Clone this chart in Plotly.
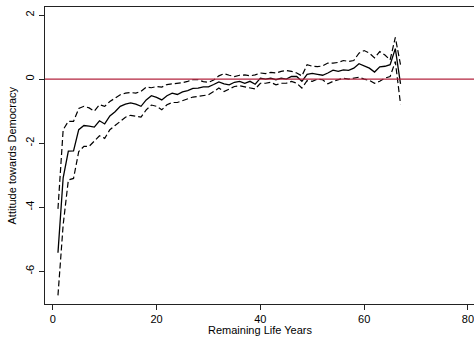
import plotly.graph_objects as go

years = list(range(1, 68))

mean_att = [-5.42, -3.08, -2.25, -2.24, -1.58, -1.45, -1.47, -1.50, -1.30, -1.40,
            -1.15, -1.02, -0.85, -0.78, -0.74, -0.78, -0.85, -0.65, -0.52, -0.57,
            -0.65, -0.52, -0.44, -0.48, -0.40, -0.36, -0.29, -0.28, -0.24, -0.24,
            -0.17, -0.09, -0.15, -0.18, -0.10, -0.07, -0.13, -0.07, -0.16, 0.03,
            0.00, 0.03, -0.02, 0.03, 0.00, 0.08, 0.08, -0.07, 0.15, 0.18,
            0.15, 0.12, 0.19, 0.28, 0.24, 0.29, 0.27, 0.34, 0.48, 0.42,
            0.34, 0.22, 0.38, 0.40, 0.45, 0.95, -0.15]

upper_ci = [-4.05, -1.58, -1.32, -1.32, -0.92, -0.85, -0.90, -1.00, -0.80, -0.85,
            -0.70, -0.60, -0.49, -0.44, -0.42, -0.44, -0.38, -0.25, -0.27, -0.23,
            -0.25, -0.17, -0.15, -0.15, -0.11, -0.07, -0.02, -0.02, -0.08, -0.10,
            -0.03, 0.10, 0.17, 0.12, 0.08, 0.12, 0.13, 0.10, 0.13, 0.19,
            0.17, 0.21, 0.19, 0.24, 0.27, 0.24, 0.19, 0.10, 0.45, 0.40,
            0.39, 0.41, 0.50, 0.50, 0.52, 0.58, 0.55, 0.58, 0.81, 0.89,
            0.81, 0.66, 0.86, 0.75, 0.60, 1.30, 0.45]

lower_ci = [-6.75, -4.55, -3.15, -3.10, -2.26, -2.10, -2.10, -1.95, -1.77, -1.85,
            -1.58, -1.45, -1.32, -1.19, -1.13, -1.15, -1.19, -0.96, -0.81, -0.85,
            -0.96, -0.80, -0.73, -0.73, -0.67, -0.63, -0.56, -0.54, -0.52, -0.49,
            -0.39, -0.28, -0.39, -0.31, -0.23, -0.21, -0.25, -0.28, -0.31, -0.13,
            -0.13, -0.10, -0.18, -0.13, -0.13, -0.07, -0.13, -0.28, -0.05, -0.07,
            0.00, -0.02, -0.15, -0.07, -0.02, 0.03, 0.00, 0.03, 0.06, 0.00,
            -0.04, -0.13, -0.07, 0.03, 0.08, 0.55, -0.78]

x_ticks = [0, 20, 40, 60, 80]
y_ticks = [2, 0, -2, -4, -6]
y_tick_labels = ["2", "0", "-2", "-4", "-6"]

fig = go.Figure()
fig.add_trace(go.Scatter(x=years, y=upper_ci, mode="lines",
                         line=dict(color="black", width=1.2, dash="6px,3px"),
                         showlegend=False, hoverinfo="skip"))
fig.add_trace(go.Scatter(x=years, y=lower_ci, mode="lines",
                         line=dict(color="black", width=1.2, dash="6px,3px"),
                         showlegend=False, hoverinfo="skip"))
fig.add_trace(go.Scatter(x=years, y=mean_att, mode="lines",
                         line=dict(color="black", width=1.3),
                         showlegend=False, hoverinfo="skip"))

fig.add_hline(y=0, line=dict(color="#b3243f", width=1.3))

font_family = "Liberation Sans, Arial, sans-serif"

fig.add_annotation(text="Remaining Life Years", xref="paper", yref="paper",
                   x=0.5, y=-0.087, xanchor="center", yanchor="middle",
                   showarrow=False, font=dict(size=11))
fig.add_annotation(text="Attitude towards Democracy", xref="paper", yref="paper",
                   x=-0.077, y=0.5, xanchor="center", yanchor="middle",
                   textangle=-90, showarrow=False, font=dict(size=11))

fig.update_layout(
    width=474, height=344,
    margin=dict(l=45, r=0, t=7, b=40, autoexpand=False),
    paper_bgcolor="white", plot_bgcolor="white",
    font=dict(family=font_family, size=11, color="black"),
    hovermode=False,
    xaxis=dict(
        range=[-1.5, 81.16], automargin=False,
        tickvals=x_ticks, ticktext=[str(v) for v in x_ticks],
        ticklabeloverflow="allow",
        ticks="outside", ticklen=5, tickcolor="#222", tickwidth=1,
        showline=True, linecolor="#222", linewidth=1.2, mirror=True,
        showgrid=False, zeroline=False, showspikes=False,
        tickfont=dict(size=11),
    ),
    yaxis=dict(
        range=[-7.02, 2.25], automargin=False,
        tickvals=y_ticks, ticktext=y_tick_labels, tickangle=-90,
        ticklabeloverflow="allow",
        ticks="outside", ticklen=5, tickcolor="#222", tickwidth=1,
        showline=True, linecolor="#222", linewidth=1.2,
        showgrid=False, zeroline=False, showspikes=False,
        tickfont=dict(size=11),
    ),
)

fig.write_html(
    "out.html",
    config={"displayModeBar": False, "staticPlot": True},
    post_script="document.body.style.margin='0';document.body.style.overflow='hidden';",
)
